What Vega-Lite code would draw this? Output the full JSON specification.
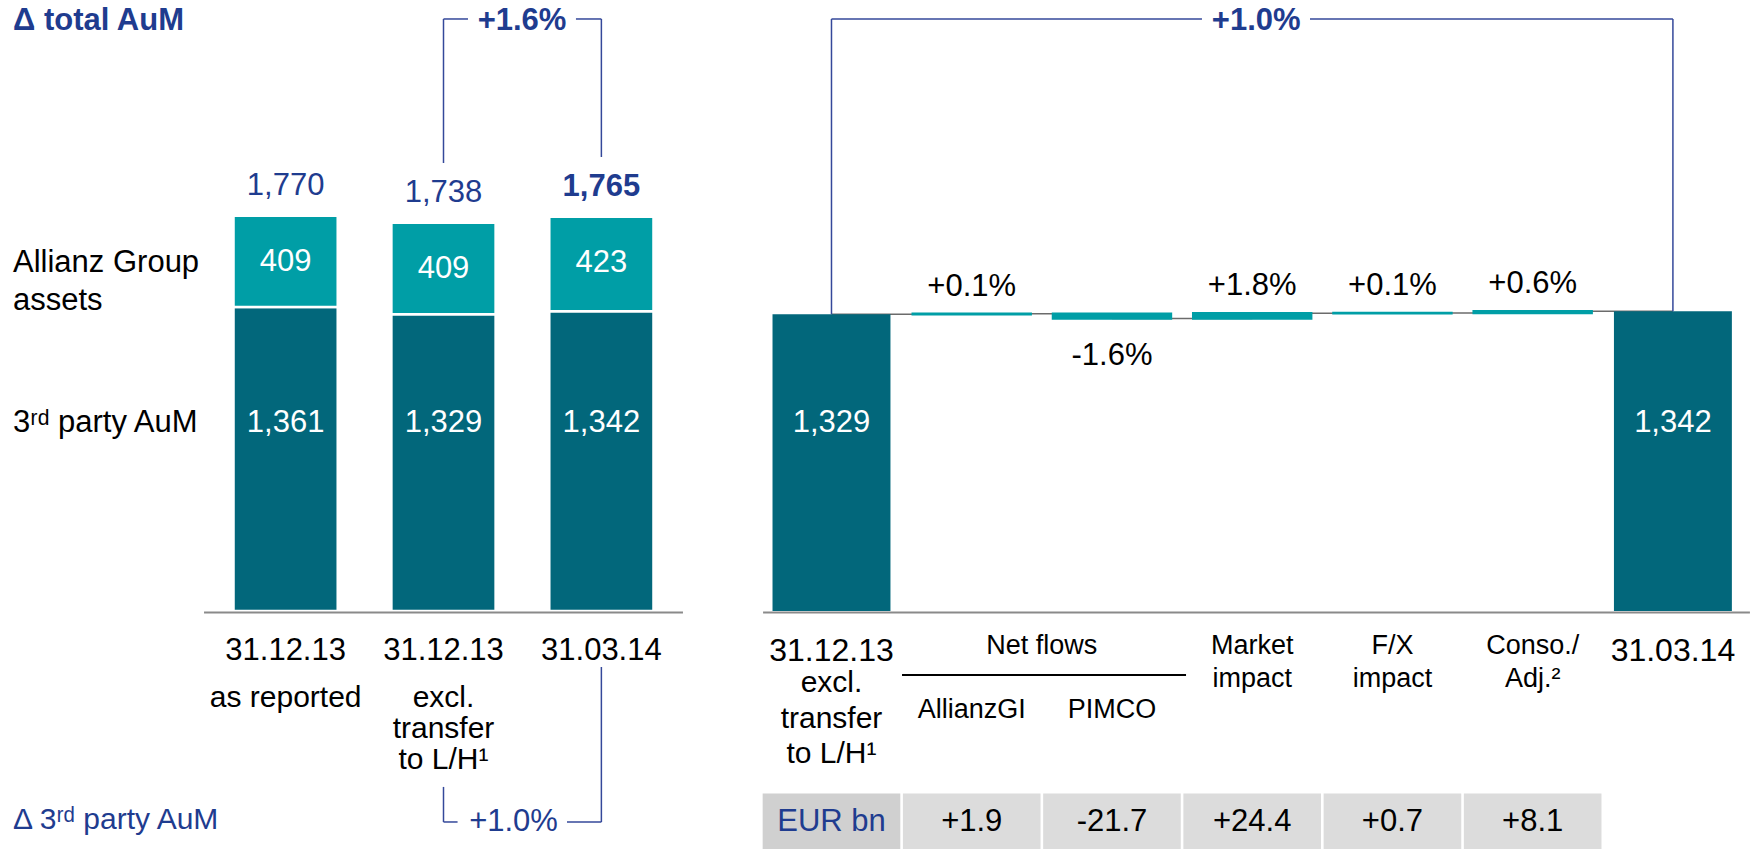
{
  "$schema": "https://vega.github.io/schema/vega-lite/v6.json",
  "width": 1753,
  "height": 849,
  "autosize": {"type": "none"},
  "padding": 0,
  "background": "white",
  "config": {
    "view": {"stroke": null},
    "axis": {"disable": true},
    "text": {"font": "Liberation Sans, Arial, sans-serif"}
  },
  "datasets": {
    "left": [
      {"cat": "L1", "third": 1361, "group": 409, "total": 1770, "date": "31.12.13", "sub": ["as reported"], "hl": false},
      {"cat": "L2", "third": 1329, "group": 409, "total": 1738, "date": "31.12.13", "sub": ["excl.", "transfer", "to L/H¹"], "hl": false},
      {"cat": "L3", "third": 1342, "group": 423, "total": 1765, "date": "31.03.14", "sub": [""], "hl": true}
    ],
    "wf": [
      {"cat": "s", "start": 0, "end": 1329, "kind": "total", "date": "31.12.13", "next": "ag"},
      {"cat": "ag", "start": 1329, "end": 1330.9, "delta": 1.9, "kind": "delta", "pct": "+0.1%", "tbl": "+1.9", "lab": "AllianzGI", "next": "pi"},
      {"cat": "pi", "start": 1330.9, "end": 1309.2, "delta": -21.7, "kind": "delta", "pct": "-1.6%", "tbl": "-21.7", "lab": "PIMCO", "next": "mk"},
      {"cat": "mk", "start": 1309.2, "end": 1333.6, "delta": 24.4, "kind": "delta", "pct": "+1.8%", "tbl": "+24.4", "head": ["Market", "impact"], "next": "fx"},
      {"cat": "fx", "start": 1333.6, "end": 1334.3, "delta": 0.7, "kind": "delta", "pct": "+0.1%", "tbl": "+0.7", "head": ["F/X", "impact"], "next": "cs"},
      {"cat": "cs", "start": 1334.3, "end": 1342.4, "delta": 8.1, "kind": "delta", "pct": "+0.6%", "tbl": "+8.1", "head": ["Conso./", "Adj.²"], "next": "e"},
      {"cat": "e", "start": 0, "end": 1342, "kind": "total", "date": "31.03.14"}
    ]
  },
  "resolve": {"scale": {"x": "independent"}},
  "layer": [
    {
      "data": {"name": "left"},
      "layer": [
        {
          "mark": {"type": "bar", "color": "#02677B", "stroke": "white", "strokeWidth": 2.5},
          "encoding": {
            "x": {"field": "cat", "type": "nominal", "scale": {"domain": ["L1", "L2", "L3"], "range": [204, 683], "paddingInner": 0.34, "paddingOuter": 0.187}},
            "y": {"field": "third", "type": "quantitative", "scale": {"domain": [-1066, 2736], "nice": false, "zero": false}},
            "y2": {"datum": 0}
          }
        },
        {
          "mark": {"type": "bar", "color": "#009EA6", "stroke": "white", "strokeWidth": 2.5},
          "encoding": {
            "x": {"field": "cat", "type": "nominal"},
            "y": {"field": "third", "type": "quantitative", "scale": {"domain": [-1066, 2736], "nice": false, "zero": false}},
            "y2": {"field": "total"}
          }
        },
        {
          "transform": [{"filter": "!datum.hl"}],
          "mark": {"type": "text", "dy": -30, "fontSize": 31, "color": "#1F3C8F", "baseline": "middle"},
          "encoding": {
            "x": {"field": "cat", "type": "nominal"},
            "y": {"field": "total", "type": "quantitative", "scale": {"domain": [-1066, 2736], "nice": false, "zero": false}},
            "text": {"field": "total", "format": ","}
          }
        },
        {
          "transform": [{"filter": "datum.hl"}],
          "mark": {"type": "text", "dy": -30, "fontSize": 31, "fontWeight": "bold", "color": "#1F3C8F", "baseline": "middle"},
          "encoding": {
            "x": {"field": "cat", "type": "nominal"},
            "y": {"field": "total", "type": "quantitative", "scale": {"domain": [-1066, 2736], "nice": false, "zero": false}},
            "text": {"field": "total", "format": ","}
          }
        },
        {
          "mark": {"type": "text", "dy": 46, "fontSize": 31, "color": "white", "baseline": "middle"},
          "encoding": {
            "x": {"field": "cat", "type": "nominal"},
            "y": {"field": "total", "type": "quantitative", "scale": {"domain": [-1066, 2736], "nice": false, "zero": false}},
            "text": {"field": "group", "format": ","}
          }
        },
        {
          "mark": {"type": "text", "fontSize": 31, "color": "white", "baseline": "middle"},
          "encoding": {
            "x": {"field": "cat", "type": "nominal"},
            "y": {"datum": 842, "type": "quantitative", "scale": {"domain": [-1066, 2736], "nice": false, "zero": false}},
            "text": {"field": "third", "format": ","}
          }
        },
        {
          "mark": {"type": "text", "fontSize": 31, "color": "black", "baseline": "middle"},
          "encoding": {
            "x": {"field": "cat", "type": "nominal"},
            "y": {"datum": -178, "type": "quantitative", "scale": {"domain": [-1066, 2736], "nice": false, "zero": false}},
            "text": {"field": "date"}
          }
        },
        {
          "mark": {"type": "text", "fontSize": 30, "color": "black", "baseline": "top", "lineHeight": 31},
          "encoding": {
            "x": {"field": "cat", "type": "nominal"},
            "y": {"datum": -324, "type": "quantitative", "scale": {"domain": [-1066, 2736], "nice": false, "zero": false}},
            "text": {"field": "sub"}
          }
        },
        {
          "data": {"values": [{}]},
          "mark": {"type": "rule", "color": "#8A8A8A", "strokeWidth": 2},
          "encoding": {
            "x": {"datum": "L1", "type": "nominal", "bandPosition": -0.283},
            "x2": {"datum": "L3", "bandPosition": 1.283},
            "y": {"datum": -7, "type": "quantitative", "scale": {"domain": [-1066, 2736], "nice": false, "zero": false}}
          }
        },
        {
          "data": {"values": [{}]},
          "mark": {"type": "rule", "color": "#34489A", "strokeWidth": 1.5},
          "encoding": {
            "x": {"datum": "L2", "type": "nominal", "bandPosition": 0.5},
            "y": {"datum": 2006, "type": "quantitative", "scale": {"domain": [-1066, 2736], "nice": false, "zero": false}},
            "y2": {"datum": 2651}
          }
        },
        {
          "data": {"values": [{}]},
          "mark": {"type": "rule", "color": "#34489A", "strokeWidth": 1.5},
          "encoding": {
            "x": {"datum": "L3", "type": "nominal", "bandPosition": 0.5},
            "y": {"datum": 2033, "type": "quantitative", "scale": {"domain": [-1066, 2736], "nice": false, "zero": false}},
            "y2": {"datum": 2651}
          }
        },
        {
          "data": {"values": [{}]},
          "mark": {"type": "rule", "color": "#34489A", "strokeWidth": 1.5},
          "encoding": {
            "x": {"datum": "L2", "type": "nominal", "bandPosition": 0.5},
            "x2": {"datum": "L2", "bandPosition": 0.735},
            "y": {"datum": 2651, "type": "quantitative", "scale": {"domain": [-1066, 2736], "nice": false, "zero": false}}
          }
        },
        {
          "data": {"values": [{}]},
          "mark": {"type": "rule", "color": "#34489A", "strokeWidth": 1.5},
          "encoding": {
            "x": {"datum": "L3", "type": "nominal", "bandPosition": 0.256},
            "x2": {"datum": "L3", "bandPosition": 0.5},
            "y": {"datum": 2651, "type": "quantitative", "scale": {"domain": [-1066, 2736], "nice": false, "zero": false}}
          }
        },
        {
          "data": {"values": [{}]},
          "mark": {"type": "rule", "color": "#34489A", "strokeWidth": 1.5},
          "encoding": {
            "x": {"datum": "L2", "type": "nominal", "bandPosition": 0.5},
            "y": {"datum": -788, "type": "quantitative", "scale": {"domain": [-1066, 2736], "nice": false, "zero": false}},
            "y2": {"datum": -945}
          }
        },
        {
          "data": {"values": [{}]},
          "mark": {"type": "rule", "color": "#34489A", "strokeWidth": 1.5},
          "encoding": {
            "x": {"datum": "L3", "type": "nominal", "bandPosition": 0.5},
            "y": {"datum": -251, "type": "quantitative", "scale": {"domain": [-1066, 2736], "nice": false, "zero": false}},
            "y2": {"datum": -945}
          }
        },
        {
          "data": {"values": [{}]},
          "mark": {"type": "rule", "color": "#34489A", "strokeWidth": 1.5},
          "encoding": {
            "x": {"datum": "L2", "type": "nominal", "bandPosition": 0.5},
            "x2": {"datum": "L2", "bandPosition": 0.635},
            "y": {"datum": -945, "type": "quantitative", "scale": {"domain": [-1066, 2736], "nice": false, "zero": false}}
          }
        },
        {
          "data": {"values": [{}]},
          "mark": {"type": "rule", "color": "#34489A", "strokeWidth": 1.5},
          "encoding": {
            "x": {"datum": "L3", "type": "nominal", "bandPosition": 0.17},
            "x2": {"datum": "L3", "bandPosition": 0.5},
            "y": {"datum": -945, "type": "quantitative", "scale": {"domain": [-1066, 2736], "nice": false, "zero": false}}
          }
        },
        {
          "data": {"values": [{}]},
          "mark": {"type": "text", "text": "+1.6%", "fontSize": 31, "fontWeight": "bold", "color": "#1F3C8F", "baseline": "middle", "dx": 78.5},
          "encoding": {
            "x": {"datum": "L2", "type": "nominal", "bandPosition": 0.5},
            "y": {"datum": 2640, "type": "quantitative", "scale": {"domain": [-1066, 2736], "nice": false, "zero": false}}
          }
        },
        {
          "data": {"values": [{}]},
          "mark": {"type": "text", "text": "+1.0%", "fontSize": 31, "color": "#1F3C8F", "baseline": "middle", "dx": 70},
          "encoding": {
            "x": {"datum": "L2", "type": "nominal", "bandPosition": 0.5},
            "y": {"datum": -945, "type": "quantitative", "scale": {"domain": [-1066, 2736], "nice": false, "zero": false}}
          }
        },
        {
          "data": {"values": [{}]},
          "mark": {"type": "text", "text": "Δ total AuM", "fontSize": 31, "fontWeight": "bold", "color": "#1F3C8F", "baseline": "middle", "align": "left", "dx": -220.5},
          "encoding": {
            "x": {"datum": "L1", "type": "nominal", "bandPosition": 0},
            "y": {"datum": 2640, "type": "quantitative", "scale": {"domain": [-1066, 2736], "nice": false, "zero": false}}
          }
        },
        {
          "data": {"values": [{}]},
          "mark": {"type": "text", "text": "Δ 3ʳᵈ party AuM", "fontSize": 30, "color": "#1F3C8F", "baseline": "middle", "align": "left", "dx": -220.5},
          "encoding": {
            "x": {"datum": "L1", "type": "nominal", "bandPosition": 0},
            "y": {"datum": -936, "type": "quantitative", "scale": {"domain": [-1066, 2736], "nice": false, "zero": false}}
          }
        },
        {
          "data": {"values": [{}]},
          "mark": {"type": "text", "text": ["Allianz Group", "assets"], "fontSize": 31, "color": "black", "baseline": "middle", "align": "left", "lineHeight": 38, "dx": -220.5},
          "encoding": {
            "x": {"datum": "L1", "type": "nominal", "bandPosition": 0},
            "y": {"datum": 1558, "type": "quantitative", "scale": {"domain": [-1066, 2736], "nice": false, "zero": false}}
          }
        },
        {
          "data": {"values": [{}]},
          "mark": {"type": "text", "text": "3ʳᵈ party AuM", "fontSize": 31, "color": "black", "baseline": "middle", "align": "left", "dx": -220.5},
          "encoding": {
            "x": {"datum": "L1", "type": "nominal", "bandPosition": 0},
            "y": {"datum": 842, "type": "quantitative", "scale": {"domain": [-1066, 2736], "nice": false, "zero": false}}
          }
        }
      ]
    },
    {
      "data": {"name": "wf"},
      "layer": [
        {
          "transform": [{"filter": "datum.next"}],
          "mark": {"type": "rule", "color": "#6B6B6B", "strokeWidth": 1.5},
          "encoding": {
            "x": {"field": "cat", "type": "nominal", "bandPosition": 0.5, "scale": {"domain": ["s", "ag", "pi", "mk", "fx", "cs", "e"], "range": [762, 1742.4], "paddingInner": 0.159, "paddingOuter": 0.075}},
            "x2": {"field": "next", "bandPosition": 0.5},
            "y": {"field": "end", "type": "quantitative", "scale": {"domain": [-1066, 2736], "nice": false, "zero": false}}
          }
        },
        {
          "transform": [{"filter": "datum.kind == 'total'"}],
          "mark": {"type": "bar", "color": "#02677B"},
          "encoding": {
            "x": {"field": "cat", "type": "nominal"},
            "y": {"field": "end", "type": "quantitative", "scale": {"domain": [-1066, 2736], "nice": false, "zero": false}},
            "y2": {"field": "start"}
          }
        },
        {
          "transform": [{"filter": "datum.kind == 'delta'"}],
          "mark": {"type": "bar", "color": "#009EA6", "stroke": "#009EA6", "strokeWidth": 2.5},
          "encoding": {
            "x": {"field": "cat", "type": "nominal"},
            "y": {"field": "start", "type": "quantitative", "scale": {"domain": [-1066, 2736], "nice": false, "zero": false}},
            "y2": {"field": "end"}
          }
        },
        {
          "transform": [{"filter": "datum.kind == 'total'"}],
          "mark": {"type": "text", "fontSize": 31, "color": "white", "baseline": "middle"},
          "encoding": {
            "x": {"field": "cat", "type": "nominal"},
            "y": {"datum": 842, "type": "quantitative", "scale": {"domain": [-1066, 2736], "nice": false, "zero": false}},
            "text": {"field": "end", "format": ",.0f"}
          }
        },
        {
          "transform": [{"filter": "datum.delta > 0"}],
          "mark": {"type": "text", "fontSize": 31, "color": "black", "baseline": "middle", "dy": -27},
          "encoding": {
            "x": {"field": "cat", "type": "nominal"},
            "y": {"field": "end", "type": "quantitative", "scale": {"domain": [-1066, 2736], "nice": false, "zero": false}},
            "text": {"field": "pct"}
          }
        },
        {
          "transform": [{"filter": "datum.delta < 0"}],
          "mark": {"type": "text", "fontSize": 31, "color": "black", "baseline": "middle", "dy": 37},
          "encoding": {
            "x": {"field": "cat", "type": "nominal"},
            "y": {"field": "end", "type": "quantitative", "scale": {"domain": [-1066, 2736], "nice": false, "zero": false}},
            "text": {"field": "pct"}
          }
        },
        {
          "transform": [{"filter": "datum.kind == 'total'"}],
          "mark": {"type": "text", "fontSize": 32, "color": "black", "baseline": "middle"},
          "encoding": {
            "x": {"field": "cat", "type": "nominal"},
            "y": {"datum": -178, "type": "quantitative", "scale": {"domain": [-1066, 2736], "nice": false, "zero": false}},
            "text": {"field": "date"}
          }
        },
        {
          "data": {"values": [{}]},
          "mark": {"type": "text", "text": ["excl.", "transfer", "to L/H¹"], "fontSize": 30, "color": "black", "baseline": "top", "lineHeight": 35.5},
          "encoding": {
            "x": {"datum": "s", "type": "nominal", "bandPosition": 0.5},
            "y": {"datum": -257, "type": "quantitative", "scale": {"domain": [-1066, 2736], "nice": false, "zero": false}}
          }
        },
        {
          "transform": [{"filter": "datum.lab"}],
          "mark": {"type": "text", "fontSize": 27, "color": "black", "baseline": "middle"},
          "encoding": {
            "x": {"field": "cat", "type": "nominal"},
            "y": {"datum": -443.5, "type": "quantitative", "scale": {"domain": [-1066, 2736], "nice": false, "zero": false}},
            "text": {"field": "lab"}
          }
        },
        {
          "transform": [{"filter": "datum.head"}],
          "mark": {"type": "text", "fontSize": 27, "color": "black", "baseline": "middle", "lineHeight": 33},
          "encoding": {
            "x": {"field": "cat", "type": "nominal"},
            "y": {"datum": -157, "type": "quantitative", "scale": {"domain": [-1066, 2736], "nice": false, "zero": false}},
            "text": {"field": "head"}
          }
        },
        {
          "data": {"values": [{}]},
          "mark": {"type": "text", "text": "Net flows", "fontSize": 27, "color": "black", "baseline": "middle", "dx": 70.1},
          "encoding": {
            "x": {"datum": "ag", "type": "nominal", "bandPosition": 0.5},
            "y": {"datum": -157, "type": "quantitative", "scale": {"domain": [-1066, 2736], "nice": false, "zero": false}}
          }
        },
        {
          "data": {"values": [{}]},
          "mark": {"type": "rule", "color": "black", "strokeWidth": 2},
          "encoding": {
            "x": {"datum": "ag", "type": "nominal", "bandPosition": -0.091},
            "x2": {"datum": "pi", "bandPosition": 1.128},
            "y": {"datum": -287, "type": "quantitative", "scale": {"domain": [-1066, 2736], "nice": false, "zero": false}}
          }
        },
        {
          "data": {"values": [{}]},
          "mark": {"type": "rule", "color": "#8A8A8A", "strokeWidth": 2},
          "encoding": {
            "x": {"datum": "s", "type": "nominal", "bandPosition": -0.08},
            "x2": {"datum": "e", "bandPosition": 1.153},
            "y": {"datum": -7, "type": "quantitative", "scale": {"domain": [-1066, 2736], "nice": false, "zero": false}}
          }
        },
        {
          "transform": [{"filter": "datum.kind == 'delta'"}],
          "mark": {"type": "bar", "color": "#DCDCDC", "width": {"band": 1.167}},
          "encoding": {
            "x": {"field": "cat", "type": "nominal"},
            "y": {"datum": -817, "type": "quantitative", "scale": {"domain": [-1066, 2736], "nice": false, "zero": false}},
            "y2": {"datum": -1066}
          }
        },
        {
          "data": {"values": [{}]},
          "mark": {"type": "bar", "color": "#D0D0D0", "width": {"band": 1.167}},
          "encoding": {
            "x": {"datum": "s", "type": "nominal"},
            "y": {"datum": -817, "type": "quantitative", "scale": {"domain": [-1066, 2736], "nice": false, "zero": false}},
            "y2": {"datum": -1066}
          }
        },
        {
          "transform": [{"filter": "datum.kind == 'delta'"}],
          "mark": {"type": "text", "fontSize": 31, "color": "black", "baseline": "middle"},
          "encoding": {
            "x": {"field": "cat", "type": "nominal"},
            "y": {"datum": -947, "type": "quantitative", "scale": {"domain": [-1066, 2736], "nice": false, "zero": false}},
            "text": {"field": "tbl"}
          }
        },
        {
          "data": {"values": [{}]},
          "mark": {"type": "text", "text": "EUR bn", "fontSize": 31, "color": "#1F3C8F", "baseline": "middle"},
          "encoding": {
            "x": {"datum": "s", "type": "nominal", "bandPosition": 0.5},
            "y": {"datum": -947, "type": "quantitative", "scale": {"domain": [-1066, 2736], "nice": false, "zero": false}}
          }
        },
        {
          "data": {"values": [{}]},
          "mark": {"type": "rule", "color": "#34489A", "strokeWidth": 1.5},
          "encoding": {
            "x": {"datum": "s", "type": "nominal", "bandPosition": 0.5},
            "y": {"datum": 1329, "type": "quantitative", "scale": {"domain": [-1066, 2736], "nice": false, "zero": false}},
            "y2": {"datum": 2651}
          }
        },
        {
          "data": {"values": [{}]},
          "mark": {"type": "rule", "color": "#34489A", "strokeWidth": 1.5},
          "encoding": {
            "x": {"datum": "e", "type": "nominal", "bandPosition": 0.5},
            "y": {"datum": 1342, "type": "quantitative", "scale": {"domain": [-1066, 2736], "nice": false, "zero": false}},
            "y2": {"datum": 2651}
          }
        },
        {
          "data": {"values": [{}]},
          "mark": {"type": "rule", "color": "#34489A", "strokeWidth": 1.5},
          "encoding": {
            "x": {"datum": "s", "type": "nominal", "bandPosition": 0.5},
            "x2": {"datum": "mk", "bandPosition": 0.074},
            "y": {"datum": 2651, "type": "quantitative", "scale": {"domain": [-1066, 2736], "nice": false, "zero": false}}
          }
        },
        {
          "data": {"values": [{}]},
          "mark": {"type": "rule", "color": "#34489A", "strokeWidth": 1.5},
          "encoding": {
            "x": {"datum": "mk", "type": "nominal", "bandPosition": 0.99},
            "x2": {"datum": "e", "bandPosition": 0.5},
            "y": {"datum": 2651, "type": "quantitative", "scale": {"domain": [-1066, 2736], "nice": false, "zero": false}}
          }
        },
        {
          "data": {"values": [{}]},
          "mark": {"type": "text", "text": "+1.0%", "fontSize": 31, "fontWeight": "bold", "color": "#1F3C8F", "baseline": "middle", "dx": 4},
          "encoding": {
            "x": {"datum": "mk", "type": "nominal", "bandPosition": 0.5},
            "y": {"datum": 2640, "type": "quantitative", "scale": {"domain": [-1066, 2736], "nice": false, "zero": false}}
          }
        }
      ]
    }
  ]
}
